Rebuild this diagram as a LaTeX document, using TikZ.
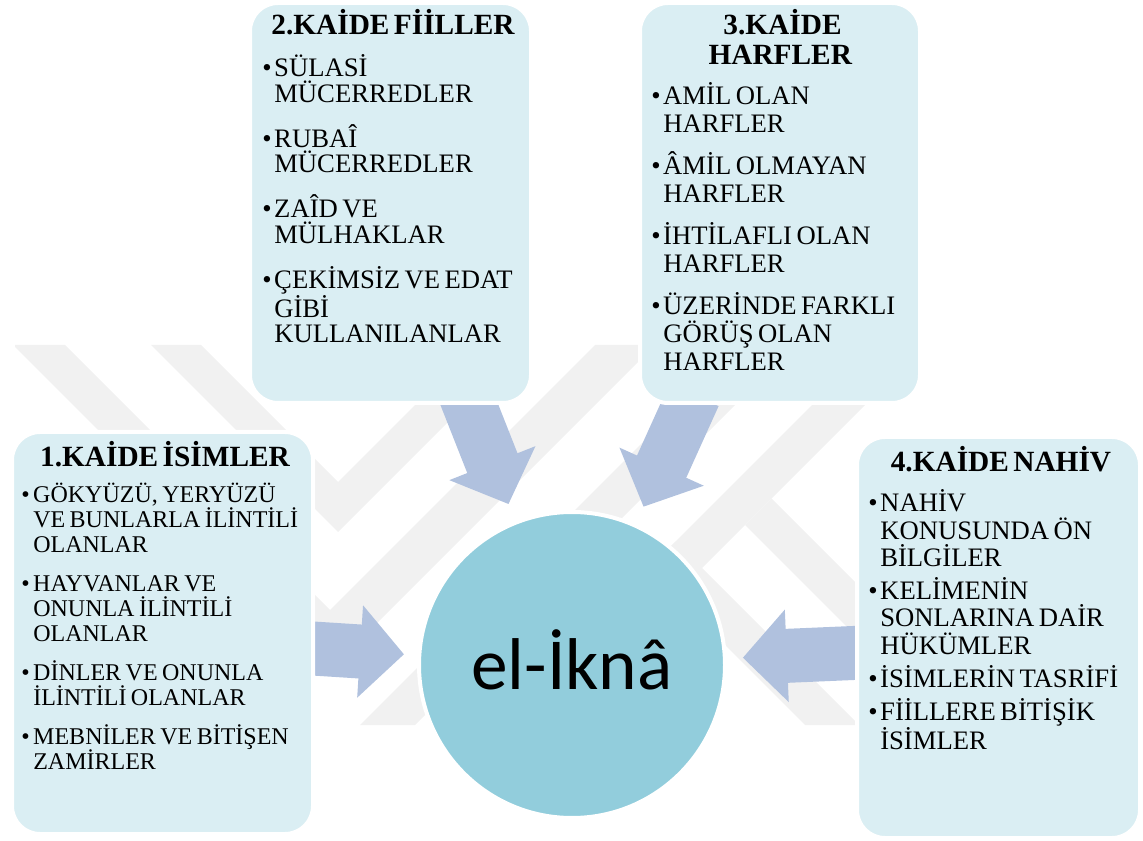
\documentclass[tikz,border=0pt]{standalone}
\usepackage{fontspec}
\setmainfont{Liberation Serif}
\newfontfamily\merkezfont{Carlito}
\usetikzlibrary{arrows.meta,calc}
\tikzset{>=latex}

\definecolor{kutumavi}{RGB}{218,238,243}
\definecolor{okmavi}{RGB}{176,193,222}
\definecolor{dairemavi}{RGB}{146,205,220}
\definecolor{damgagri}{RGB}{241,241,241}

\pgfdeclarelayer{damga}
\pgfdeclarelayer{oklar}
\pgfsetlayers{damga,oklar,main}

\tikzset{
	kutu/.style={draw=white, line width=3pt, fill=kutumavi, rounded corners=21pt, inner sep=0pt},
	metin/.style={anchor=base west, inner sep=0pt},
	blokok/.style={okmavi, line width=40.5pt, -{Triangle[length=33pt,width=67.5pt]}},
	daire/.style={circle, draw=white, line width=3pt, fill=dairemavi, minimum size=229.5pt, inner sep=0pt}
}

% Texts in the boxes
\newcommand{\kutuyazi}[3]{\fontsize{#1}{#2}\selectfont\setlength{\parskip}{#3}}
\newcommand{\baslik}[1]{{\centering\fontsize{22}{22.5}\bfseries\selectfont #1\par}}
\newcommand{\madde}[1]{\hangindent=9pt\hangafter=1\noindent\makebox[9pt][l]{\textbullet}#1\par}

\begin{document}
\begin{tikzpicture}[x=0.75pt, y=-0.75pt]
		\useasboundingbox (0,0) rectangle (1143,841);

		% Watermark
		\begin{pgfonlayer}{damga}
		\begin{scope}
			\clip (15,345) rectangle (870,725);
			\fill[damgagri] (151,345) -- (201,345) -- (338,482) -- (475,345) -- (525,345) -- (338,532) -- cycle;
			\fill[damgagri] (13,345) -- (65,345) -- (330,610) -- (595,345) -- (655,345) -- (334,666) -- cycle;
			\fill[damgagri] (740,345) -- (795,345) -- (415,725) -- (360,725) -- cycle;
			\fill[damgagri] (917,300) -- (970,300) -- (675,595) -- (648.5,568.5) -- cycle;
			\fill[damgagri] (648.5,568.5) -- (675.5,541.5) -- (859,725) -- (805,725) -- cycle;
			\fill[damgagri] (745,525) -- (771.5,498.5) -- (900,627) -- (900,680) -- cycle;
		\end{scope}
		\end{pgfonlayer}

		% Boxes
		\node[kutu, minimum width=225.75pt, minimum height=301.5pt] (kaide1) at (162.5,633) {};
		\node[kutu, minimum width=210.75pt, minimum height=300pt] (kaide2) at (390.5,203) {};
		\node[kutu, minimum width=210pt, minimum height=300pt] (kaide3) at (780,203) {};
		\node[kutu, minimum width=212.25pt, minimum height=300.75pt] (kaide4) at (998.5,637.5) {};

		% Centre
		\node[daire, text height=36pt, text depth=0pt, font={\merkezfont\fontsize{55}{60}\selectfont}] (merkez) at (572,665) {el-İknâ};

		% Arrows
		\begin{pgfonlayer}{oklar}
			\draw[blokok, shorten >=10pt] ($(kaide1.east)+(-10,15)$) -- (merkez);
			\draw[blokok, shorten >=13.5pt] ($(kaide2.south)+(75,-10)$) -- (merkez);
			\draw[blokok, shorten >=14pt] ($(kaide3.south)+(-86,-10)$) -- (merkez);
			\draw[blokok, shorten >=12pt] ($(kaide4.west)+(10,15)$) -- (merkez);
		\end{pgfonlayer}

		% Lists
		\node[metin, text width=212.25pt] (metin1) at (21,467) {\kutuyazi{18}{18.75}{10.5pt}
			\baslik{1.KAİDE İSİMLER}\vspace{-2.25pt}
			\madde{GÖKYÜZÜ, YERYÜZÜ\newline VE BUNLARLA İLİNTİLİ\newline OLANLAR}
			\madde{HAYVANLAR VE\newline ONUNLA İLİNTİLİ\newline OLANLAR}
			\madde{DİNLER VE ONUNLA\newline İLİNTİLİ OLANLAR}
			\madde{MEBNİLER VE BİTİŞEN\newline ZAMİRLER}};
		\node[metin, text width=192.75pt] (metin2) at (262,35) {\kutuyazi{20}{19.1}{14.6pt}
			\baslik{2.KAİDE FİİLLER}\vspace{-2.25pt}
			\madde{SÜLASİ\newline MÜCERREDLER}
			\madde{RUBAÎ\newline MÜCERREDLER}
			\madde{ZAÎD VE\newline MÜLHAKLAR}
			\madde{ÇEKİMSİZ VE EDAT\newline GİBİ\newline KULLANILANLAR}};
		\node[metin, text width=193.5pt] (metin3) at (651,35) {\kutuyazi{20}{21}{10.5pt}
			\baslik{3.KAİDE\\HARFLER}\vspace{-1.5pt}
			\madde{AMİL OLAN\newline HARFLER}
			\madde{ÂMİL OLMAYAN\newline HARFLER}
			\madde{İHTİLAFLI OLAN\newline HARFLER}
			\madde{ÜZERİNDE FARKLI\newline GÖRÜŞ OLAN\newline HARFLER}};
		\node[metin, text width=195.75pt] (metin4) at (868,472) {\kutuyazi{20}{20.6}{4pt}
			\baslik{4.KAİDE NAHİV}\vspace{5.25pt}
			\madde{NAHİV\newline KONUSUNDA ÖN\newline BİLGİLER}
			\madde{KELİMENİN\newline SONLARINA DAİR\newline HÜKÜMLER}
			\madde{İSİMLERİN TASRİFİ}
			\madde{FİİLLERE BİTİŞİK\newline İSİMLER}};
	\end{tikzpicture}
\end{document}
